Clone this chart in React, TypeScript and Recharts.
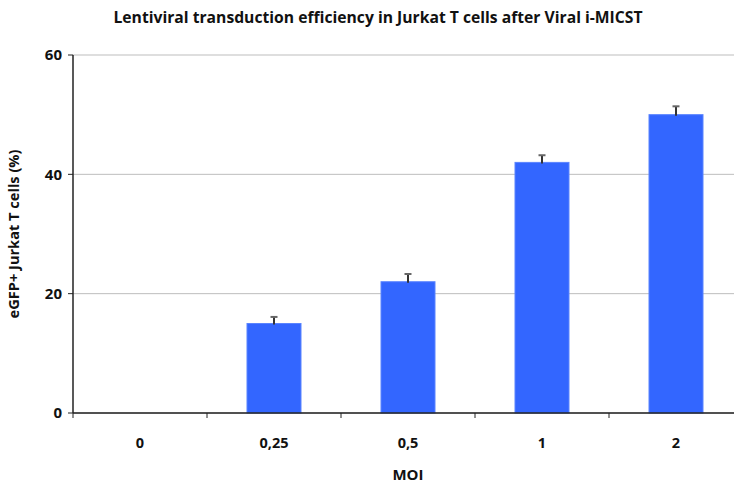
import React from "react";
import { BarChart, Bar, XAxis, YAxis, CartesianGrid } from "recharts";

const moi = ["0", "0,25", "0,5", "1", "2"];
const efficiency = [0, 15, 22, 42, 50];
const errorUp = [0, 1.1, 1.3, 1.2, 1.4];
const yTicks = [0, 20, 40, 60];

const data = moi.map((m, i) => ({ moi: m, value: efficiency[i], err: errorUp[i] }));

const W = 750;
const H = 485;
const margin = { top: 55, right: 7, left: 0, bottom: 0 };
const FONT = "'Open Sans', Lato, sans-serif";

// bar + upper-only error whisker, scaled from the bar's own height
const BarWithError = (props: any) => {
  const { x, y, width, height, payload } = props;
  if (!payload || !payload.value) return null;
  const pxPerUnit = height / payload.value;
  const ey = y - payload.err * pxPerUnit;
  const cx = x + width / 2;
  return (
    <g>
      <rect x={x} y={y} width={width} height={height} fill="#3366FF" stroke="#5a84ff" strokeWidth={1} />
      <line x1={cx} x2={cx} y1={y + 1} y2={ey} stroke="#333" strokeWidth={2} />
      <line x1={cx - 3.5} x2={cx + 3.5} y1={ey} y2={ey} stroke="#666" strokeWidth={2} />
    </g>
  );
};

const plotWidth = W - margin.left - margin.right - 73;
const band = plotWidth / moi.length;

const XTick = (props: any) => {
  const { x, y, payload, index } = props;
  return (
    <g>
      <line x1={x - band / 2} x2={x - band / 2} y1={y} y2={y + 5} stroke="#222" strokeWidth={1} />
      {index === moi.length - 1 && (
        <line x1={x + band / 2} x2={x + band / 2} y1={y} y2={y + 5} stroke="#222" strokeWidth={1} />
      )}
      <text x={x} y={y + 35} textAnchor="middle" fontFamily={FONT} fontWeight="bold" fontSize={14.5} fill="#111">
        {payload.value}
      </text>
    </g>
  );
};

export default function App() {
  return (
    <div style={{ position: "absolute", left: 0, top: 0, width: W, height: H, background: "#fff" }}>
      <style>{`body{margin:0;overflow:hidden}`}</style>
      <div
        style={{
          position: "absolute",
          left: 0,
          width: 756,
          top: 7,
          textAlign: "center",
          fontFamily: FONT,
          fontWeight: "bold",
          fontSize: 15.7,
          lineHeight: "20px",
          color: "#111",
        }}
      >
        Lentiviral transduction efficiency in Jurkat T cells after Viral i-MICST
      </div>
      <BarChart width={W} height={H} data={data} margin={margin}>
        <CartesianGrid vertical={false} stroke="#bdbdbd" />
        <XAxis
          dataKey="moi"
          height={72}
          tickLine={false}
          tickSize={0}
          tickMargin={0}
          tick={XTick}
          axisLine={{ stroke: "#222", strokeWidth: 1.5 }}
          label={{
            value: "MOI",
            position: "insideBottom",
            offset: 5,
            fontFamily: FONT,
            fontWeight: "bold",
            fontSize: 15,
            fill: "#111",
          }}
        />
        <YAxis
          domain={[0, 60]}
          ticks={yTicks}
          width={73}
          tickSize={5}
          tickMargin={6}
          tickLine={{ stroke: "#222" }}
          axisLine={{ stroke: "#222", strokeWidth: 1.5 }}
          tick={{ fontFamily: FONT, fontWeight: "bold", fontSize: 15, fill: "#111" }}
          label={{
            value: "eGFP+ Jurkat T cells (%)",
            angle: -90,
            position: "insideLeft",
            offset: 14,
            style: { textAnchor: "middle" },
            fontFamily: FONT,
            fontWeight: "bold",
            fontSize: 14.6,
            fill: "#111",
          }}
        />
        <Bar dataKey="value" barSize={54} isAnimationActive={false} shape={BarWithError} />
      </BarChart>
    </div>
  );
}
